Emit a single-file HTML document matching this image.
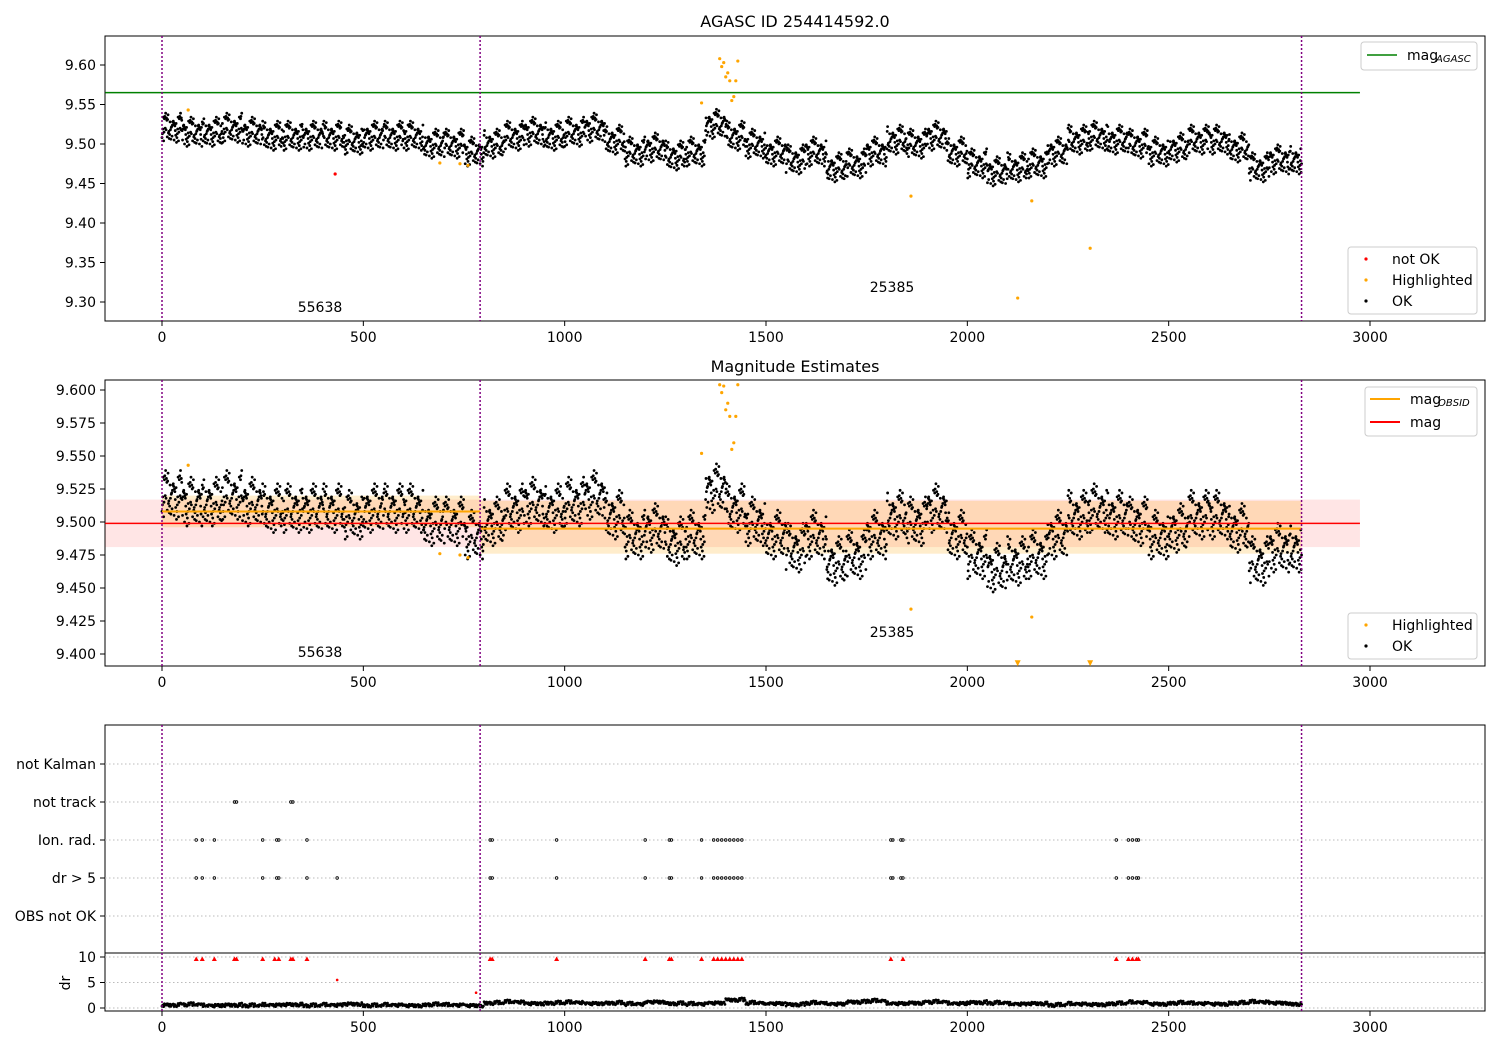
<!DOCTYPE html>
<html><head><meta charset="utf-8"><style>
body{margin:0;background:#fff;font-family:"Liberation Sans","DejaVu Sans",sans-serif}
svg text{font-family:"DejaVu Sans","Liberation Sans",sans-serif}
</style></head><body>
<svg id="chart" width="1500" height="1050" xmlns="http://www.w3.org/2000/svg"></svg>
<script>
// ---- data ----
const trendTimes = [0,50,100,150,200,250,300,350,400,450,500,550,600,650,700,750,800,850,900,950,1000,1050,1100,1150,1200,1250,1300,1350,1400,1450,1500,1550,1600,1650,1700,1750,1800,1850,1900,1950,2000,2050,2100,2150,2200,2250,2300,2350,2400,2450,2500,2550,2600,2650,2700,2750,2800];
const magValues = [9.52,9.515,9.515,9.52,9.515,9.51,9.51,9.51,9.51,9.505,9.51,9.51,9.51,9.50,9.50,9.49,9.50,9.51,9.515,9.51,9.515,9.52,9.505,9.49,9.495,9.485,9.49,9.525,9.51,9.50,9.49,9.48,9.49,9.47,9.475,9.49,9.505,9.50,9.51,9.49,9.475,9.465,9.47,9.475,9.49,9.505,9.51,9.505,9.50,9.49,9.495,9.505,9.505,9.495,9.47,9.48,9.48];
const drValues = [0.6,0.7,0.5,0.6,0.5,0.6,0.7,0.5,0.6,0.8,0.5,0.6,0.5,0.7,0.6,0.5,1.0,1.2,0.9,1.0,1.1,0.9,1.0,0.8,1.2,0.9,0.8,1.0,1.6,1.0,0.9,0.7,1.0,0.8,1.2,1.4,0.9,1.0,1.2,0.9,1.1,1.0,0.8,0.9,0.6,0.8,0.7,0.9,1.1,0.8,1.0,0.9,0.8,1.0,1.2,1.0,0.8];
const hlTimes = [65,690,740,760,1340,1385,1390,1395,1400,1405,1410,1415,1420,1425,1430,1860,2160,2305,2125];
const hlMags = [9.543,9.476,9.475,9.473,9.552,9.608,9.598,9.603,9.585,9.59,9.580,9.555,9.56,9.58,9.605,9.434,9.428,9.368,9.305];
const notOkTimes = [430];
const notOkMags = [9.462];
const ionTimes = [85,100,130,250,285,290,360,815,820,980,1200,1260,1265,1340,1370,1380,1390,1400,1410,1420,1430,1440,1810,1815,1835,1840,2370,2400,2410,2420,2425];
const drBigTimes = [85,100,130,250,285,290,360,435,815,820,980,1200,1260,1265,1340,1370,1380,1390,1400,1410,1420,1430,1440,1810,1815,1835,1840,2370,2400,2410,2420,2425];
const notTrackTimes = [180,185,320,325];
const redTriTimes = [85,100,130,180,185,250,280,290,320,325,360,815,820,980,1200,1260,1265,1340,1370,1380,1390,1400,1410,1420,1430,1440,1810,1840,2370,2400,2410,2420,2425];
const obsBounds = [0,790,2830];
const obsLabels = ["55638","25385"];
const xTicks = [0,500,1000,1500,2000,2500,3000];
const y1Ticks = [9.30,9.35,9.40,9.45,9.50,9.55,9.60];
const y2Ticks = [9.400,9.425,9.450,9.475,9.500,9.525,9.550,9.575,9.600];
const rowLabels = ["not Kalman","not track","Ion. rad.","dr > 5","OBS not OK"];
const drTicks = [0,5,10];

const S = document.getElementById('chart');
const NS = 'http://www.w3.org/2000/svg';
function mk(tag, at, parent){const e=document.createElementNS(NS,tag);for(const k in at)e.setAttribute(k,at[k]);(parent||S).appendChild(e);return e;}
const X = t => 162 + t*0.40267;
const Y1 = v => 65 + (9.60-v)*790;
const Y2 = v => 390 + (9.60-v)*1320;
const YD = v => 1008 - v*5.1;
const rowY = [764,802,840,878,916];
// visual jitter pattern (rendering style, not data)
const off = [-0.012,0.008,-0.004,0.015,-0.009,0.002,0.011,-0.016,0.005,-0.002,0.013,-0.007,0.009,-0.013,0.0,0.006,-0.01,0.017,-0.005,0.003,-0.014,0.01,-0.001,0.007,-0.008,0.019,-0.018,0.004,-0.006,0.012,-0.003,0.001,-0.011,0.014,-0.015,0.008,-0.002];
const OL = off.length;

function txt(x,y,s,o,p){const e=mk('text',Object.assign({x:x,y:y,'font-size':14,fill:'#000'},o||{}),p);e.textContent=s;return e;}

function frame(y0,y1,name){const r=mk('rect',{x:105,y:y0,width:1380,height:y1-y0,fill:'none',stroke:'#000','stroke-width':1});}
function xaxis(yb,name){const g=mk('g',{});
 xTicks.forEach(t=>{mk('line',{x1:X(t),x2:X(t),y1:yb,y2:yb+5,stroke:'#000'},g);txt(X(t),yb+21,String(t),{'text-anchor':'middle'},g);});}
function vlines(y0,y1){obsBounds.forEach(t=>{const l=mk('line',{x1:X(t),x2:X(t),y1:y0,y2:y1,stroke:'purple','stroke-width':1.5,'stroke-dasharray':'2,2'});});}
function scatterTrend(Yf,vals,g,ymin,ymax,amp){
 for(let i=0;i<trendTimes.length;i++){
  const t0=trendTimes[i];
  for(let k=0;k<50;k++){
   const t=t0+k; if(t>2830) break;
   const v=vals[i]+off[(k*11+i*5)%OL]*amp;
   const y=Yf(v); if(y<ymin||y>ymax) continue;
   mk('circle',{cx:X(t),cy:y,r:1.4,fill:'#000'},g);
  }
 }
}
// ---------- Panel 1 ----------
frame(36,321,'agasc-plot-frame');
const t1=txt(795,27,'AGASC ID 254414592.0',{'text-anchor':'middle','font-size':16});
y1Ticks.forEach(v=>{mk('line',{x1:100,x2:105,y1:Y1(v),y2:Y1(v),stroke:'#000'});txt(96,Y1(v)+5,v.toFixed(2),{'text-anchor':'end'});});
xaxis(321,'x-axis-top');
const ag=mk('line',{x1:X(-141),x2:X(2975),y1:Y1(9.565),y2:Y1(9.565),stroke:'green','stroke-width':1.5});
const g1=mk('g',{});
scatterTrend(Y1,magValues,g1,36,321,1.0);
hlTimes.forEach((t,i)=>{const c=mk('circle',{cx:X(t),cy:Y1(hlMags[i]),r:1.6,fill:'orange'});});
notOkTimes.forEach((t,i)=>{const c=mk('circle',{cx:X(t),cy:Y1(notOkMags[i]),r:1.6,fill:'red'});});
vlines(36,321);
txt(320,312,obsLabels[0],{'text-anchor':'middle'});txt(892,292,obsLabels[1],{'text-anchor':'middle'});
let lg=mk('g',{});
mk('rect',{x:1361,y:42,width:116,height:28,rx:3,fill:'#fff',stroke:'#ccc'},lg);
mk('line',{x1:1367,x2:1397,y1:55,y2:55,stroke:'green','stroke-width':1.5},lg);
txt(1407,60,'mag',{},lg);txt(1436,62,'AGASC',{'font-size':10,'font-style':'italic'},lg);
lg=mk('g',{});
mk('rect',{x:1348,y:247,width:129,height:67,rx:3,fill:'#fff',stroke:'#ccc'},lg);
[['not OK','red',259],['Highlighted','orange',280],['OK','#000',301]].forEach(a=>{mk('circle',{cx:1366,cy:a[2],r:1.6,fill:a[1]},lg);txt(1392,a[2]+5,a[0],{},lg);});

// ---------- Panel 2 ----------
frame(380,666,'magnitude-estimates-frame');
txt(795,372,'Magnitude Estimates',{'text-anchor':'middle','font-size':16});
y2Ticks.forEach(v=>{mk('line',{x1:100,x2:105,y1:Y2(v),y2:Y2(v),stroke:'#000'});txt(96,Y2(v)+5,v.toFixed(3),{'text-anchor':'end'});});
xaxis(666,'x-axis-middle');
mk('rect',{x:X(-141),y:Y2(9.517),width:X(2975)-X(-141),height:Y2(9.481)-Y2(9.517),fill:'rgba(255,0,0,0.1)'});
mk('rect',{x:X(0),y:Y2(9.520),width:X(790)-X(0),height:Y2(9.496)-Y2(9.520),fill:'rgba(255,165,0,0.2)'});
mk('rect',{x:X(790),y:Y2(9.516),width:X(2830)-X(790),height:Y2(9.476)-Y2(9.516),fill:'rgba(255,165,0,0.2)'});
const g2=mk('g',{});
scatterTrend(Y2,magValues,g2,380,666,1.0);
mk('line',{x1:X(0),x2:X(790),y1:Y2(9.508),y2:Y2(9.508),stroke:'orange','stroke-width':2});
mk('line',{x1:X(790),x2:X(2830),y1:Y2(9.495),y2:Y2(9.495),stroke:'orange','stroke-width':2});
const rl=mk('line',{x1:X(-141),x2:X(2975),y1:Y2(9.499),y2:Y2(9.499),stroke:'red','stroke-width':1.5});
hlTimes.forEach((t,i)=>{const v=hlMags[i];if(v<9.393){const x=X(t),y=Y2(9.393);mk('path',{d:`M${x-3},${y-3}L${x+3},${y-3}L${x},${y+3}Z`,fill:'orange'});}else{const c=mk('circle',{cx:X(t),cy:Y2(Math.min(v,9.604)),r:1.6,fill:'orange'});}});
vlines(380,666);
txt(320,657,obsLabels[0],{'text-anchor':'middle'});txt(892,637,obsLabels[1],{'text-anchor':'middle'});
lg=mk('g',{});
mk('rect',{x:1365,y:387,width:112,height:49,rx:3,fill:'#fff',stroke:'#ccc'},lg);
mk('line',{x1:1370,x2:1400,y1:399,y2:399,stroke:'orange','stroke-width':2},lg);
txt(1410,404,'mag',{},lg);txt(1438,406,'OBSID',{'font-size':10,'font-style':'italic'},lg);
mk('line',{x1:1370,x2:1400,y1:422,y2:422,stroke:'red','stroke-width':2},lg);txt(1410,427,'mag',{},lg);
lg=mk('g',{});
mk('rect',{x:1348,y:613,width:129,height:46,rx:3,fill:'#fff',stroke:'#ccc'},lg);
[['Highlighted','orange',625],['OK','#000',646]].forEach(a=>{mk('circle',{cx:1366,cy:a[2],r:1.6,fill:a[1]},lg);txt(1392,a[2]+5,a[0],{},lg);});

// ---------- Panel 3 ----------
frame(725,953,'flags-frame');
rowLabels.forEach((s,i)=>{mk('line',{x1:105,x2:1485,y1:rowY[i],y2:rowY[i],stroke:'#bbb','stroke-dasharray':'1.5,2.5'});mk('line',{x1:100,x2:105,y1:rowY[i],y2:rowY[i],stroke:'#000'});const l=txt(96,rowY[i]+5,s,{'text-anchor':'end'});});
function flagDots(times,row){times.forEach(t=>{const c=mk('circle',{cx:X(t),cy:rowY[row],r:1.3,fill:'none',stroke:'#000','stroke-width':0.8});});}
flagDots(notTrackTimes,1);flagDots(ionTimes,2);flagDots(drBigTimes,3);
vlines(725,953);
frame(953,1011,'dr-frame');
[0,5,10].forEach(v=>{mk('line',{x1:105,x2:1485,y1:YD(v),y2:YD(v),stroke:'#bbb','stroke-dasharray':'1.5,2.5'});});
drTicks.forEach(v=>{mk('line',{x1:100,x2:105,y1:YD(v),y2:YD(v),stroke:'#000'});txt(96,YD(v)+5,String(v),{'text-anchor':'end'});});
const dt=txt(70,983,'dr',{'text-anchor':'middle',transform:'rotate(-90 70 983)'});
xaxis(1011,'x-axis-bottom');
const gd=mk('g',{});
for(let i=0;i<trendTimes.length;i++){for(let k=0;k<50;k+=2){const t=trendTimes[i]+k;if(t>2830)break;mk('circle',{cx:X(t),cy:YD(drValues[i]+off[(k*11+i*5)%OL]*20),r:1.4,fill:'#000'},gd);}}
redTriTimes.forEach(t=>{const x=X(t),y=YD(9.6);const p=mk('path',{d:`M${x},${y-2.5}L${x+2.5},${y+2}L${x-2.5},${y+2}Z`,fill:'red'});});
mk('circle',{cx:X(435),cy:YD(5.5),r:1.3,fill:'red'});mk('circle',{cx:X(780),cy:YD(3),r:1.3,fill:'red'});
vlines(953,1011);
</script>
</body></html>
